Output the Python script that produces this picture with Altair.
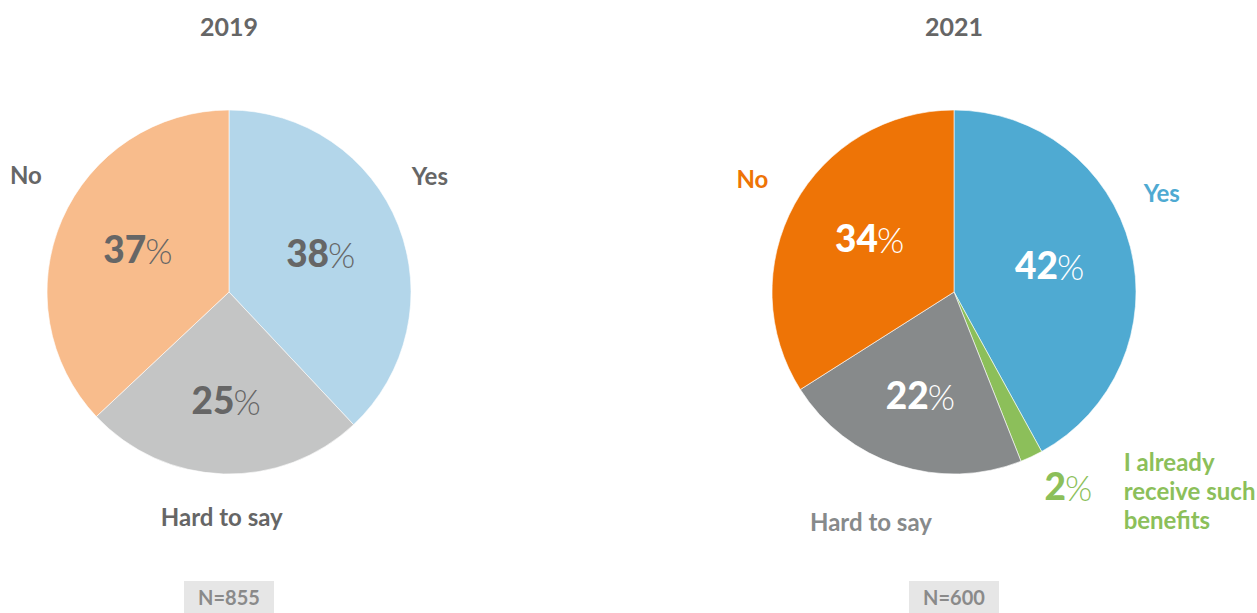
import textwrap
import altair as alt
import pandas as pd

# ---- data ----
years = ["2019", "2021"]
n_labels = ["N=855", "N=600"]
cats_2019 = ["Yes", "Hard to say", "No"]
vals_2019 = [38, 25, 37]
cats_2021 = ["Yes", "I already receive such benefits", "Hard to say", "No"]
vals_2021 = [42, 2, 22, 34]

# ---- style ----
FONT = "Lato"
W, H = 458, 584
R = 182
NUM_FS = 37
PCT_FS = 35
LAB_FS = 24

colors_2019 = ["#b3d6ea", "#c4c5c5", "#f8bc8c"]
colors_2021 = ["#4faad2", "#8cbf5a", "#878a8b", "#ee7406"]

GRAY_TXT = "#666666"

styles_2019 = {
    "Yes": dict(r_in=98, dy_in=0, pct_color=GRAY_TXT, lab_color=GRAY_TXT, r_out=230, dx=-13, dy=-29, align="center"),
    "Hard to say": dict(r_in=111, dy_in=0, pct_color=GRAY_TXT, lab_color=GRAY_TXT, r_out=230, dx=0, dy=-3, align="center"),
    "No": dict(r_in=100, dy_in=0, pct_color=GRAY_TXT, lab_color=GRAY_TXT, r_out=230, dx=8, dy=-24, align="center"),
}
styles_2021 = {
    "Yes": dict(r_in=98, dy_in=0, pct_color="white", lab_color="#4faad2", r_out=230, dx=-15, dy=-40, align="center"),
    "I already receive such benefits": dict(r_in=227, dx_in=17, dy_in=-8, pct_color="#8cbf5a", lab_color="#8cbf5a",
                                            r_out=227, dx=73, dy=-33, align="left", wrap=12),
    "Hard to say": dict(r_in=111, dy_in=0, pct_color="white", lab_color="#878a8b", r_out=230, dx=-12, dy=13, align="center"),
    "No": dict(r_in=97, dy_in=-4, pct_color="white", lab_color="#ee7406", r_out=230, dx=0, dy=0, align="center"),
}


def pie(year, n_label, cats, vals, colors, styles):
    df = pd.DataFrame({"cat": cats, "v": vals, "idx": list(range(len(cats)))})
    base = (
        alt.Chart(df)
        .transform_window(end="sum(v)", sort=[alt.SortField("idx", order="ascending")], frame=[None, 0])
        .transform_calculate(start="datum.end - datum.v", mid="datum.end - datum.v / 2")
    )
    tscale = alt.Scale(domain=[0, 100])
    arcs = base.mark_arc(outerRadius=R, stroke="white", strokeWidth=0.6).encode(
        theta=alt.Theta("start:Q", scale=tscale),
        theta2="end:Q",
        color=alt.Color("cat:N", scale=alt.Scale(domain=cats, range=colors), legend=None),
    )
    layers = [arcs]
    for cat, v in zip(cats, vals):
        st = styles[cat]
        sub = base.transform_filter(alt.datum.cat == cat)
        ndig = len(str(v))
        split = (ndig * 0.58 * NUM_FS - 25) / 2
        dx_in = st.get("dx_in", 0)
        layers.append(
            sub.mark_text(
                radius=st["r_in"], font=FONT, fontSize=NUM_FS, fontWeight=900, align="right",
                baseline="middle", color=st["pct_color"], dx=dx_in + split, dy=st["dy_in"],
            ).encode(theta=alt.Theta("mid:Q", scale=tscale), text=alt.Text("v:Q"))
        )
        layers.append(
            sub.mark_text(
                radius=st["r_in"], font=FONT, fontSize=PCT_FS, fontWeight=300, align="left",
                baseline="middle", color=st["pct_color"], dx=dx_in + split - 1, dy=st["dy_in"] + 1,
            ).encode(theta=alt.Theta("mid:Q", scale=tscale), text=alt.value("%"))
        )
        label = textwrap.wrap(cat, st["wrap"]) if "wrap" in st else cat
        layers.append(
            sub.mark_text(
                radius=st["r_out"], font=FONT, fontSize=LAB_FS, fontWeight="bold", align=st["align"],
                baseline="middle", color=st["lab_color"], dx=st["dx"], dy=st["dy"], lineHeight=29,
            ).encode(theta=alt.Theta("mid:Q", scale=tscale), text=alt.value(label))
        )
    title = alt.Chart(pd.DataFrame({"t": [year]})).mark_text(
        font=FONT, fontSize=25, fontWeight="bold", color=GRAY_TXT, baseline="middle", align="center"
    ).encode(x=alt.value(W / 2), y=alt.value(28), text="t:N")
    nbox = alt.Chart(pd.DataFrame({"n": [n_label]})).mark_rect(color="#e6e6e6").encode(
        x=alt.value(W / 2 - 45), x2=alt.value(W / 2 + 45), y=alt.value(581), y2=alt.value(613)
    )
    ntext = alt.Chart(pd.DataFrame({"n": [n_label]})).mark_text(
        font=FONT, fontSize=20, fontWeight="bold", color="#8a8a8a", baseline="middle", align="center"
    ).encode(x=alt.value(W / 2), y=alt.value(599), text="n:N")
    layers += [title, nbox, ntext]
    return alt.layer(*layers).properties(width=W, height=H)


left = pie(years[0], n_labels[0], cats_2019, vals_2019, colors_2019, styles_2019)
right = pie(years[1], n_labels[1], cats_2021, vals_2021, colors_2021, styles_2021)

chart = (
    alt.hconcat(left, right, spacing=267)
    .resolve_scale(color="independent", theta="independent")
    .properties(padding=0, background="white")
    .configure_view(stroke=None)
)
chart.save("out.html", embed_options={"renderer": "svg", "actions": False})
